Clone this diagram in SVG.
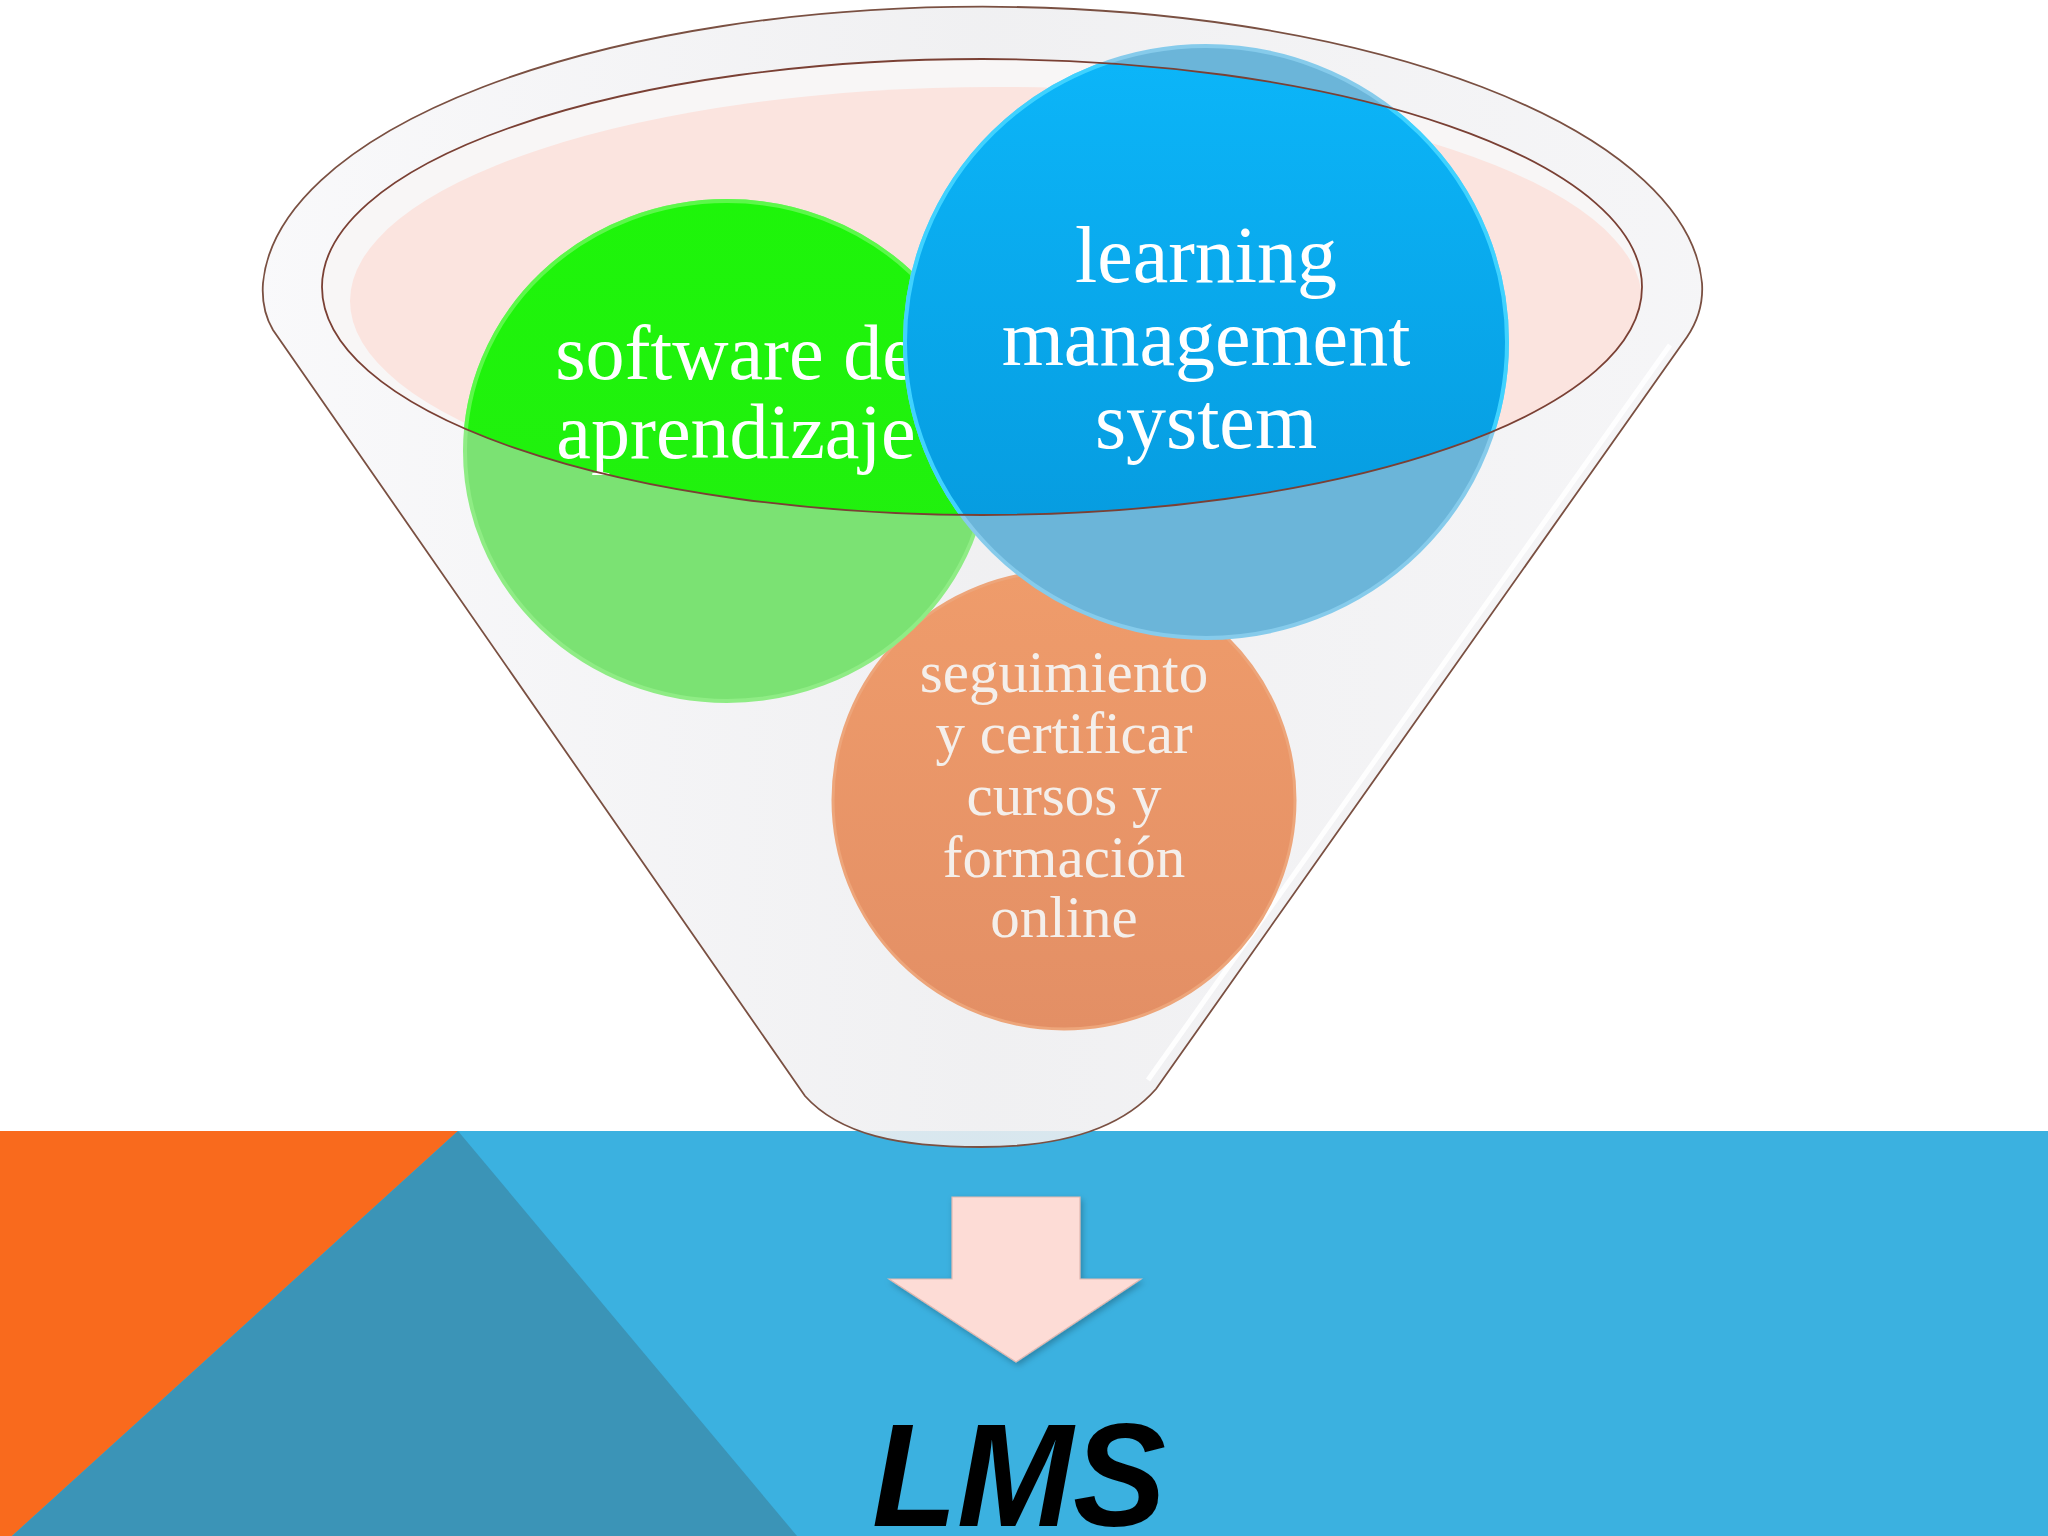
<svg xmlns="http://www.w3.org/2000/svg" width="2048" height="1536" viewBox="0 0 2048 1536">
<style>
.lbl{font-family:"Liberation Serif","Times New Roman",serif;fill:#ffffff;text-anchor:middle}
.lms{font-family:"Liberation Sans",Arial,sans-serif;font-weight:bold;font-style:italic;fill:#000;text-anchor:middle}
</style>
<defs>
<clipPath id="rim"><ellipse cx="982" cy="287" rx="660" ry="228"/></clipPath>
<linearGradient id="blueG" x1="0" y1="0" x2="0" y2="1"><stop offset="0" stop-color="#0CB6F9"/><stop offset="1" stop-color="#0596DA"/></linearGradient>
<linearGradient id="greenG" x1="0" y1="0" x2="0" y2="1"><stop offset="0" stop-color="#1EF50A"/><stop offset="1" stop-color="#22EE10"/></linearGradient>
<linearGradient id="orangeG" x1="0" y1="0" x2="0" y2="1"><stop offset="0" stop-color="#EF9C6B"/><stop offset="1" stop-color="#E38F65"/></linearGradient>
<linearGradient id="glass" x1="0" y1="0" x2="1" y2="0"><stop offset="0" stop-color="#F8F8FA"/><stop offset="0.5" stop-color="#EEEEF0"/><stop offset="1" stop-color="#F4F4F6"/></linearGradient>
<filter id="sh" x="-20%" y="-20%" width="140%" height="140%"><feDropShadow dx="2" dy="3" stdDeviation="3" flood-color="#000" flood-opacity="0.25"/></filter>
</defs>
<rect width="2048" height="1536" fill="#ffffff"/>
<g id="background">
<rect x="0" y="1131" width="2048" height="405" fill="#3BB1E0"/>
<polygon points="0,1131 458,1131 12,1536 0,1536" fill="#F96A1D"/>
<polygon points="458,1131 12,1536 797,1536" fill="#3B94B7"/>
</g>
<g id="funnel">
<path d="M 263 283 A 720 287 0 0 1 1702 283 Q 1704 312 1687 337 L 1156 1089 C 1120 1130 1060 1147 981 1147 C 900 1147 840 1135 805 1096 L 273 330 Q 261 310 263 283 Z" fill="url(#glass)" fill-opacity="0.88" stroke="#7A5042" stroke-width="1.8"/>
<path d="M 1670 345 L 1148 1080" fill="none" stroke="#ffffff" stroke-width="5" opacity="0.9"/>
<ellipse cx="982" cy="287" rx="660" ry="228" fill="#F8F6F6"/>
<ellipse cx="996" cy="301" rx="646" ry="214" fill="#FBE4DF" clip-path="url(#rim)"/>
</g>
<g id="node-orange">
<ellipse cx="1064" cy="800" rx="231" ry="229" fill="url(#orangeG)" stroke="#EDA57A" stroke-width="3"/>
<text class="lbl" font-size="59" style="fill:#F4EFEB"><tspan x="1064" y="692">seguimiento</tspan><tspan x="1064" y="753">y certificar</tspan><tspan x="1064" y="815">cursos y</tspan><tspan x="1064" y="877">formación</tspan><tspan x="1064" y="937">online</tspan></text>
</g>
<g id="node-green">
<ellipse cx="727" cy="451" rx="262" ry="250" fill="#7BE273" stroke="#8FEC85" stroke-width="4"/>
<ellipse cx="727" cy="451" rx="262" ry="250" fill="url(#greenG)" stroke="#5CF84A" stroke-width="4" clip-path="url(#rim)"/>
<text class="lbl" font-size="78"><tspan x="736" y="379">software de</tspan><tspan x="736" y="458">aprendizaje</tspan></text>
</g>
<g id="node-blue">
<ellipse cx="1206" cy="342" rx="301" ry="296" fill="#6BB5D9" stroke="#86CBEB" stroke-width="4"/>
<ellipse cx="1206" cy="342" rx="301" ry="296" fill="url(#blueG)" stroke="#3FD2FF" stroke-width="4" clip-path="url(#rim)"/>
<text class="lbl" font-size="80"><tspan x="1206" y="282">learning</tspan><tspan x="1206" y="365">management</tspan><tspan x="1206" y="448">system</tspan></text>
</g>
<ellipse id="rim-line" cx="982" cy="287" rx="660" ry="228" fill="none" stroke="#7A4034" stroke-width="1.8"/>
<g id="connectors">
<polygon points="952,1197 1080,1197 1080,1279 1141,1279 1016,1362 889,1279 952,1279" fill="#FDDCD6" stroke="#E2B8B0" stroke-width="1.2" filter="url(#sh)"/>
</g>
<g id="node-lms">
<text class="lms" x="1019" y="1526" font-size="146" textLength="294" lengthAdjust="spacingAndGlyphs">LMS</text>
</g>
</svg>
